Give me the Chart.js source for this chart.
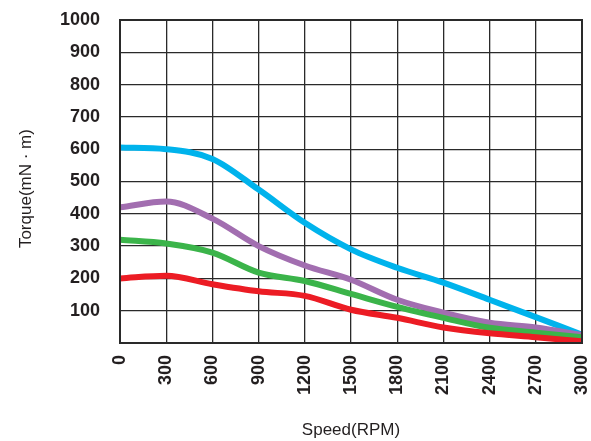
<!DOCTYPE html>
<html>
<head>
  <title>Torque Curve</title>
  <script src="https://cdn.jsdelivr.net/npm/chart.js"></script>
  <style>
    html, body { margin: 0; padding: 0; background: #fff; }
    #wrap { width: 591px; height: 441px; }
  </style>
</head>
<body>

<div id="wrap"><canvas id="torqueChart" width="591" height="441"></canvas></div>

<script>
  // speed (RPM) points the curves were read at
  const speeds = [0, 300, 600, 900, 1200, 1500, 1800, 2100, 2400, 2700, 3000];

  const blueTorque   = [605, 600, 570, 475, 372, 290, 233, 187, 134, 80, 26];
  const purpleTorque = [420, 438, 385, 300, 240, 196, 134, 94, 63, 48, 25];
  const greenTorque  = [320, 308, 280, 218, 192, 152, 112, 78, 47, 32, 18];
  const redTorque    = [200, 208, 182, 160, 146, 103, 78, 48, 30, 18, 5];

  const yTicks = [100, 200, 300, 400, 500, 600, 700, 800, 900, 1000];

  function series(values, color) {
    return {
      data: speeds.map((s, i) => ({ x: s, y: values[i] })),
      borderColor: color,
      borderWidth: 6,
      pointRadius: 0,
      fill: false,
      cubicInterpolationMode: 'monotone'
    };
  }

  const gridColor = '#2a2a2a';

  new Chart(document.getElementById('torqueChart'), {
    type: 'line',
    data: {
      datasets: [
        series(redTorque, '#ec1c24'),
        series(greenTorque, '#3bb44a'),
        series(purpleTorque, '#a26eb0'),
        series(blueTorque, '#00b3ec')
      ]
    },
    options: {
      responsive: false,
      animation: false,
      layout: { padding: { top: 20, right: 9, left: 0, bottom: 0 } },
      plugins: { legend: { display: false }, tooltip: { enabled: false } },
      scales: {
        x: {
          type: 'linear',
          min: 0,
          max: 3000,
          afterFit: s => {
            s.height = 98;
            s.paddingLeft = 0;
            s.paddingRight = 0;
          },
          afterBuildTicks: s => { s.ticks = speeds.map(v => ({ value: v })); },
          grid: { color: gridColor, lineWidth: 1.3, drawTicks: false },
          border: { color: gridColor, width: 2 },
          ticks: {
            maxRotation: 90,
            minRotation: 90,
            padding: 12,
            color: '#231f20',
            font: { family: 'Liberation Sans', size: 18, weight: 'bold' },
            callback: v => String(v)
          },
          title: {
            display: true,
            text: 'Speed(RPM)',
            color: '#231f20',
            padding: { top: 0, bottom: 0 },
            font: { family: 'Liberation Sans', size: 17 }
          }
        },
        y: {
          min: 0,
          max: 1000,
          afterFit: s => {
            s.width = 120;
            s.paddingTop = 0;
            s.paddingBottom = 0;
          },
          afterBuildTicks: s => { s.ticks = [0].concat(yTicks).map(v => ({ value: v })); },
          grid: { color: gridColor, lineWidth: 1.3, drawTicks: false },
          border: { color: gridColor, width: 2 },
          ticks: {
            padding: 20,
            color: '#231f20',
            font: { family: 'Liberation Sans', size: 18, weight: 'bold' },
            callback: v => (v === 0 ? '' : String(v))
          },
          title: {
            display: true,
            text: 'Torque(mN · m)   ',
            color: '#231f20',
            padding: { top: 16, bottom: 0 },
            font: { family: 'Liberation Sans', size: 17 }
          }
        }
      }
    },
    plugins: [{
      // right and top frame lines
      id: 'frame',
      afterDraw(chart) {
        const { ctx, chartArea: a } = chart;
        ctx.save();
        ctx.strokeStyle = gridColor;
        ctx.lineWidth = 2;
        ctx.strokeRect(a.left, a.top, a.right - a.left, a.bottom - a.top);
        ctx.restore();
      }
    }]
  });
</script>

</body>
</html>
